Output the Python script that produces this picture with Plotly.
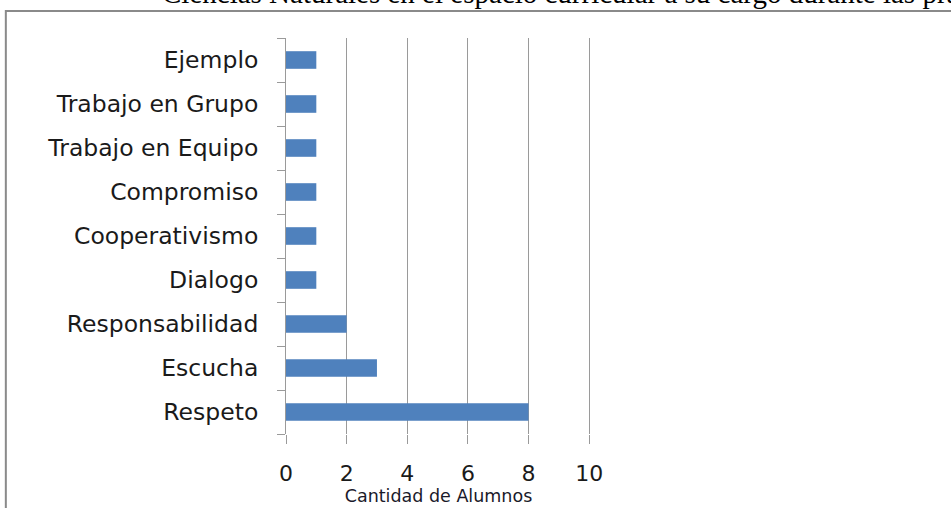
import plotly.graph_objects as go

categories = ["Respeto", "Escucha", "Responsabilidad", "Dialogo", "Cooperativismo",
              "Compromiso", "Trabajo en Equipo", "Trabajo en Grupo", "Ejemplo"]
values = [8, 3, 2, 1, 1, 1, 1, 1, 1]
x_ticks = [0, 2, 4, 6, 8, 10]
x_title = "Cantidad de Alumnos"
header = "Ciencias Naturales en el espacio curricular a su cargo durante las prácticas"

W, H = 951, 508
XMAX = 10.06
L, T, B = 286, 38, 434
R = L + 30.3 * XMAX

def px(xp):
    return (xp - L) / (R - L)

def py(yp):
    return (B - yp) / (B - T)

fig = go.Figure(go.Bar(
    y=categories, x=values, orientation="h",
    marker=dict(color="#4F81BD", line=dict(width=0)),
    width=0.4,
))

fig.update_layout(
    width=W, height=H,
    margin=dict(l=L, r=W - R, t=T, b=H - B),
    plot_bgcolor="white", paper_bgcolor="white",
    showlegend=False,
    font=dict(family="DejaVu Sans", color="#1a1a1a"),
    xaxis=dict(
        range=[0, XMAX], tickvals=x_ticks, ticktext=[str(v) for v in x_ticks],
        showgrid=True, gridcolor="#9a9a9a", gridwidth=1,
        showline=False, zeroline=False, automargin=False,
        ticks="outside", ticklen=9, tickcolor="#9a9a9a",
        tickfont=dict(size=22, family="DejaVu Sans", color="#1a1a1a"),
        ticklabelstandoff=11,
        title=dict(text=x_title, font=dict(size=17.5, family="DejaVu Sans", color="#1a1a2a"), standoff=0),
    ),
    yaxis=dict(
        categoryorder="array", categoryarray=categories,
        range=[-0.5, len(categories) - 0.5],
        tickson="boundaries", ticks="outside", ticklen=8, tickcolor="#9a9a9a",
        showline=True, linecolor="#9a9a9a", linewidth=1,
        showgrid=False, zeroline=False, automargin=False,
        tickfont=dict(size=23.5, family="DejaVu Sans", color="#1a1a1a"),
        ticklabelstandoff=22,
    ),
    shapes=[dict(
        type="rect", xref="paper", yref="paper",
        x0=px(6), x1=px(1200), y0=py(11), y1=py(700),
        line=dict(color="#8a8a8a", width=2), fillcolor="rgba(0,0,0,0)", layer="below",
    )],
    annotations=[dict(
        text=header, xref="paper", yref="paper",
        x=px(160), y=py(11), xanchor="left", yanchor="bottom",
        showarrow=False, align="left",
        font=dict(family="Liberation Serif", size=29, color="#000000"),
    )],
)

fig.write_html("out.html")
